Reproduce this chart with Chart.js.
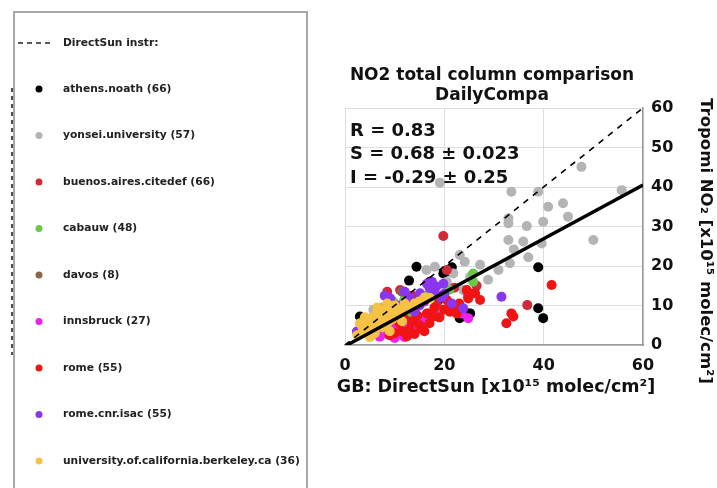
<!DOCTYPE html>
<html>
<head>
<meta charset="utf-8">
<script src="https://cdn.jsdelivr.net/npm/chart.js@4/dist/chart.umd.min.js"></script>
<style>
    html, body { margin: 0; padding: 0; background: #fff; }
    #wrap { width: 717px; height: 488px; position: relative; }
</style>
</head>
<body>
<div id="wrap"><canvas id="grafico"></canvas></div>
<script>
// sites, legend order
const siteNames = ['athens.noath', 'yonsei.university', 'buenos.aires.citedef', 'cabauw', 'davos',
    'innsbruck', 'rome', 'rome.cnr.isac', 'university.of.california.berkeley.ca'];
const siteCounts = [66, 57, 66, 48, 8, 27, 55, 55, 36];
const siteColors = ['#000000', '#b4b4b4', '#cf2a3a', '#6cc64a', '#8a6647', '#ee22ee', '#f01414', '#8a35f0', '#f6c246'];

// GB DirectSun (x) vs Tropomi (y), x10^15 molec/cm2
const athensX = [14.4, 12.9, 19.8, 21.5, 38.9, 38.9, 39.9, 3.0, 23.1, 25.2, 12.7, 17.1, 24.8, 10.5, 15.8, 8.2, 19.0, 6.5, 21.1];
const athensY = [19.8, 16.3, 18.1, 19.7, 19.7, 9.3, 6.8, 7.2, 6.8, 8.0, 3.0, 16.0, 8.0, 9.5, 12.0, 6.0, 11.5, 4.5, 18.6];

const yonseiX = [19.1, 33.5, 38.9, 47.6, 55.7, 40.9, 43.9, 44.9, 50.0, 39.9, 36.6, 32.9, 32.9, 32.9, 35.9, 39.6, 36.9,
    33.2, 30.9, 28.8, 27.2, 25.2, 23.8, 23.1, 24.1, 16.4, 18.1, 21.8, 5.7, 34.0, 12.0, 7.5, 20.5];
const yonseiY = [41.1, 38.8, 38.8, 45.1, 39.2, 35.0, 35.9, 32.5, 26.6, 31.2, 30.1, 32.1, 30.8, 26.6, 26.2, 25.7, 22.2,
    20.7, 19.0, 16.5, 20.3, 17.3, 13.9, 22.8, 21.1, 19.0, 19.8, 18.1, 8.9, 24.2, 13.5, 9.5, 16.0];

const buenosX = [19.8, 36.7, 20.5, 17.5, 12.0, 8.5, 10.5, 14.0, 22.0, 24.8, 16.0, 11.0, 9.0, 13.5, 18.5, 26.5, 7.0, 15.0,
    21.0, 11.1, 12.5, 16.8, 19.0, 9.5, 14.8];
const buenosY = [27.6, 10.1, 19.0, 14.5, 11.5, 13.5, 6.0, 9.0, 14.5, 12.5, 5.5, 4.0, 8.0, 12.5, 10.0, 15.0, 5.0, 7.0,
    9.5, 13.9, 7.5, 8.0, 12.0, 3.5, 5.0];

const cabauwX = [25.8, 19.1, 9.7, 18.8, 25.8, 6.5, 8.0, 12.0, 14.5, 5.0, 10.5, 16.5, 21.0, 4.0, 13.0, 7.5];
const cabauwY = [16.0, 8.0, 11.0, 8.0, 18.1, 7.0, 9.5, 11.5, 10.0, 5.5, 8.5, 12.5, 14.0, 4.5, 7.0, 5.0];

const davosX = [11.5, 6.0, 8.5, 13.5, 4.5, 10.0, 15.0, 7.5];
const davosY = [13.5, 5.5, 7.5, 11.0, 4.0, 9.0, 10.5, 4.5];

const innsbruckX = [24.8, 23.5, 7.0, 10.4, 12.7, 8.5, 14.0, 16.5, 11.5, 6.0, 9.5, 18.0, 13.5, 15.5, 10.0, 12.0];
const innsbruckY = [6.8, 8.0, 2.1, 3.4, 5.5, 2.8, 4.5, 7.0, 2.5, 3.0, 4.0, 8.5, 3.2, 5.5, 1.8, 2.0];

const romeX = [41.6, 33.5, 33.9, 32.5, 26.2, 27.2, 24.8, 24.5, 20.5, 21.1, 22.5, 17.8, 15.0, 13.0, 11.5, 10.0,
    18.0, 22.5, 16.5, 9.0, 12.0, 14.5, 19.5, 23.0, 8.0, 11.0, 16.0, 25.5, 13.5, 15.5, 17.0, 19.0, 20.0, 14.0, 12.5];
const romeY = [15.2, 8.0, 7.2, 5.5, 13.1, 11.4, 11.8, 13.9, 11.4, 8.4, 8.0, 7.2, 5.0, 4.0, 3.5, 3.0,
    9.5, 9.5, 8.0, 2.5, 6.5, 7.5, 12.5, 10.5, 4.5, 5.5, 3.5, 13.0, 6.0, 4.0, 5.5, 7.0, 9.0, 2.8, 2.2];

const isacX = [31.5, 9.1, 15.1, 18.4, 2.4, 23.8, 17.0, 13.0, 11.0, 19.8, 20.0, 16.0, 14.0, 12.0, 5.5, 21.5, 10.0, 17.5,
    7.0, 3.5, 8.0, 19.5, 16.5, 18.0, 15.0];
const isacY = [12.2, 11.8, 13.1, 14.8, 3.4, 9.3, 14.5, 12.0, 10.0, 15.5, 13.0, 11.0, 8.5, 13.5, 5.0, 10.5, 7.5, 16.0,
    9.0, 5.5, 12.5, 12.0, 15.5, 13.5, 10.0];

const berkeleyX = [2.5, 3.5, 4.0, 4.5, 5.0, 5.5, 6.0, 6.5, 7.0, 7.5, 8.0, 8.5, 9.0, 9.5, 10.0, 10.5, 11.0, 12.0, 13.0,
    3.0, 5.0, 6.0, 7.5, 9.0, 11.5, 4.0, 6.5, 8.5, 14.0, 15.0, 16.0, 17.1, 3.5, 5.5, 7.0, 8.0, 10.0, 12.5];
const berkeleyY = [2.5, 4.5, 3.0, 6.0, 4.0, 7.0, 5.0, 8.0, 6.0, 9.0, 7.0, 5.5, 8.5, 6.5, 10.0, 7.5, 9.0, 10.5, 9.5,
    5.5, 2.0, 3.0, 4.5, 3.5, 6.0, 7.0, 9.5, 10.5, 10.5, 11.0, 12.0, 11.9, 3.0, 5.0, 7.5, 8.0, 8.0, 9.0];

// 1:1 line and fit (S = 0.68, I = -0.29)
const unoX = [0, 60];
const unoY = [0, 60];
const fitX = [0, 60];
const fitY = [-0.29, 40.5];

const xTicks = [0, 20, 40, 60];
const yTicks = [0, 10, 20, 30, 40, 50, 60];

const statLines = ['R = 0.83', 'S = 0.68 \u00b1 0.023', 'I = -0.29 \u00b1 0.25'];

function pares(xs, ys) {
    return xs.map(function (x, i) { return { x: x, y: ys[i] }; });
}

const siteX = [athensX, yonseiX, buenosX, cabauwX, davosX, innsbruckX, romeX, isacX, berkeleyX];
const siteY = [athensY, yonseiY, buenosY, cabauwY, davosY, innsbruckY, romeY, isacY, berkeleyY];

var datasets = [
    { label: 'fit', data: pares(fitX, fitY), showLine: true, borderColor: '#000', borderWidth: 3.5, pointRadius: 0, order: 0 },
    { label: 'DirectSun instr:', data: pares(unoX, unoY), showLine: true, borderColor: '#000', borderWidth: 1.6, borderDash: [6, 6], pointRadius: 0, order: 0 }
];
for (var i = 0; i < siteNames.length; i++) {
    datasets.push({
        label: siteNames[i] + ' (' + siteCounts[i] + ')',
        data: pares(siteX[i], siteY[i]),
        backgroundColor: siteColors[i],
        borderColor: siteColors[i],
        borderWidth: 0,
        pointRadius: 5,
        order: siteNames.length - i
    });
}

const FONTE = '"DejaVu Sans", sans-serif';

// titulos, textos e legenda desenhados no canvas
const extras = {
    id: 'extras',
    afterDraw(chart) {
        const ctx = chart.ctx;
        const area = chart.chartArea;
        ctx.save();
        ctx.fillStyle = '#111';

        // titulo
        ctx.font = 'bold 17px ' + FONTE;
        ctx.textAlign = 'center';
        ctx.textBaseline = 'middle';
        ctx.fillText('NO2 total column comparison', 492, 76);
        ctx.fillText('DailyCompa', 492, 96);

        // estatisticas
        ctx.font = 'bold 18px ' + FONTE;
        ctx.textAlign = 'left';
        for (var k = 0; k < statLines.length; k++) {
            ctx.fillText(statLines[k], area.left + 5, 131 + k * 23.5);
        }

        // eixo x
        ctx.font = 'bold 17.5px ' + FONTE;
        ctx.textAlign = 'center';
        ctx.fillText('GB: DirectSun [x10\u00b9\u2075 molec/cm\u00b2]', 496, 387);

        // eixo y (direita, rotacionado)
        ctx.font = 'bold 16.5px ' + FONTE;
        ctx.save();
        ctx.translate(705, 241);
        ctx.rotate(Math.PI / 2);
        ctx.fillText('Tropomi NO\u2082 [x10\u00b9\u2075 molec/cm\u00b2]', 0, 0);
        ctx.restore();

        // legenda
        ctx.strokeStyle = '#a8a8a8';
        ctx.lineWidth = 2;
        ctx.strokeRect(14, 12, 293, 490);

        ctx.strokeStyle = '#222';
        ctx.lineWidth = 1.6;
        ctx.setLineDash([4, 4]);
        ctx.beginPath();
        ctx.moveTo(12, 88);
        ctx.lineTo(12, 355);
        ctx.stroke();

        ctx.setLineDash([5, 4]);
        ctx.beginPath();
        ctx.moveTo(18, 43);
        ctx.lineTo(53, 43);
        ctx.stroke();
        ctx.setLineDash([]);

        ctx.font = 'bold 10.7px ' + FONTE;
        ctx.textAlign = 'left';
        ctx.fillStyle = '#222';
        ctx.fillText('DirectSun instr:', 63, 43);
        for (var j = 0; j < siteNames.length; j++) {
            var yy = 89 + j * 46.5;
            ctx.fillStyle = siteColors[j];
            ctx.beginPath();
            ctx.arc(39, yy, 3.5, 0, Math.PI * 2);
            ctx.fill();
            ctx.fillStyle = '#222';
            ctx.fillText(siteNames[j] + ' (' + siteCounts[j] + ')', 63, yy);
        }
        ctx.restore();
    }
};

const config = {
    type: 'scatter',
    data: { datasets: datasets },
    options: {
        responsive: true,
        maintainAspectRatio: false,
        animation: false,
        layout: { padding: { left: 345, top: 108, right: 0, bottom: 0 } },
        plugins: {
            legend: { display: false },
            title: { display: false },
            tooltip: { enabled: false }
        },
        scales: {
            x: {
                type: 'linear',
                min: 0,
                max: 60,
                afterFit(scale) { scale.height = 143; },
                afterBuildTicks(scale) { scale.ticks = xTicks.map(function (v) { return { value: v }; }); },
                grid: { color: '#dddddd', drawTicks: false },
                border: { color: '#9a9a9a', width: 1.5 },
                ticks: { padding: 11, color: '#111', font: { family: FONTE, size: 16, weight: 'bold' } }
            },
            y: {
                type: 'linear',
                position: 'right',
                min: 0,
                max: 60,
                afterFit(scale) { scale.width = 74; },
                afterBuildTicks(scale) { scale.ticks = yTicks.map(function (v) { return { value: v }; }); },
                grid: { color: '#dddddd', drawTicks: false },
                border: { color: '#9a9a9a', width: 1.5 },
                ticks: { padding: 8, color: '#111', font: { family: FONTE, size: 16, weight: 'bold' } }
            }
        }
    },
    plugins: [extras]
};

const grafico = new Chart(document.getElementById('grafico').getContext('2d'), config);
</script>
</body>
</html>
